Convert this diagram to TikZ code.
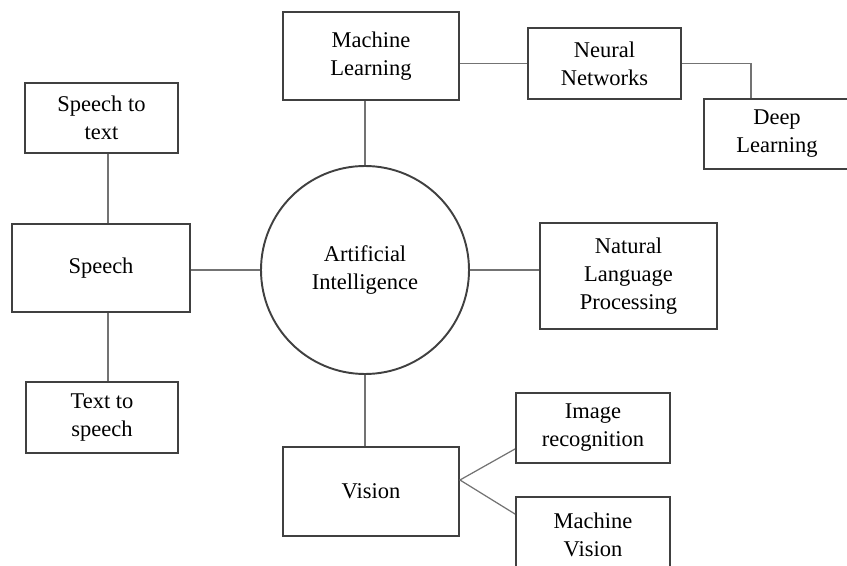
\documentclass[tikz,border=0pt]{standalone}
\usepackage{fontspec}
\setmainfont{Liberation Serif}
\tikzset{
	topic/.style={draw=black!75, line width=1.1pt, align=center, inner sep=0pt, font=\fontsize{12.8}{16}\selectfont},
	link/.style={draw=black!55, line width=0.7pt},
}
\begin{document}
\begin{tikzpicture}[x=2cm,y=-2cm]
	\useasboundingbox (0,0) rectangle (8.47,5.66);
	% centre
	\node[topic, circle, minimum size=4.16cm] (ai) at (3.65,2.70) {Artificial\\Intelligence};
	% top branch
	\node[topic, minimum width=3.52cm, minimum height=1.76cm] (ml) at (3.71,0.56) {Machine\\Learning};
	\node[topic, minimum width=3.06cm, minimum height=1.42cm] (nn) at (6.045,0.635) {Neural\\Networks};
	\node[topic, minimum width=2.92cm, minimum height=1.40cm] (dl) at (7.77,1.34) {Deep\\Learning};
	% left branch
	\node[topic, minimum width=3.56cm, minimum height=1.76cm] (sp) at (1.01,2.68) {Speech};
	\node[topic, minimum width=3.06cm, minimum height=1.40cm] (stt) at (1.015,1.18) {Speech to\\text};
	\node[topic, minimum width=3.04cm, minimum height=1.42cm] (tts) at (1.02,4.175) {Text to\\speech};
	% right branch
	\node[topic, minimum width=3.54cm, minimum height=2.12cm] (nlp) at (6.285,2.76) {Natural\\Language\\Processing};
	% bottom branch
	\node[topic, minimum width=3.52cm, minimum height=1.78cm] (vis) at (3.71,4.915) {Vision};
	\node[topic, minimum width=3.08cm, minimum height=1.40cm] (ir) at (5.93,4.28) {Image\\recognition};
	\node[topic, minimum width=3.08cm, minimum height=1.50cm] (mv) at (5.93,5.345) {Machine\\Vision};
	% connectors
	\draw[link] (ai.north) -- (ai.north |- ml.south);
	\draw[link] (nn.west) -- (nn.west -| ml.east);
	\draw[link] (nn.east) -| ([xshift=0.96cm]dl.north west);
	\draw[link] (ai.west) -- (ai.west -| sp.east);
	\draw[link] ([xshift=0.14cm]sp.north) -- ([xshift=0.14cm]sp.north |- stt.south);
	\draw[link] ([xshift=0.14cm]sp.south) -- ([xshift=0.14cm]sp.south |- tts.north);
	\draw[link] (ai.east) -- (ai.east -| nlp.west);
	\draw[link] (ai.south) -- (ai.south |- vis.north);
	\coordinate (fork) at ([yshift=0.23cm]vis.east);
	\draw[link] ([yshift=0.3cm]ir.south west) -- (fork) -- ([yshift=-0.36cm]mv.north west);
\end{tikzpicture}
\end{document}
